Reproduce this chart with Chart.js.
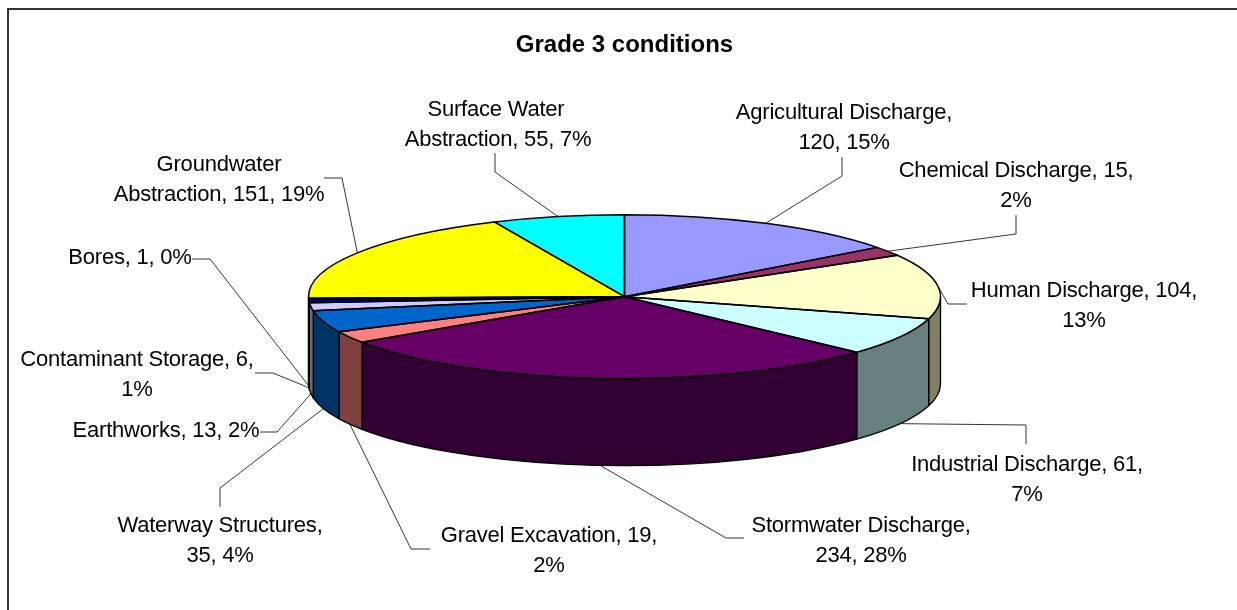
<!DOCTYPE html>
<html>
<head>
<meta charset="utf-8">
<title>Grade 3 conditions</title>
<style>
html,body{margin:0;padding:0;background:#fff;}
#wrap{position:relative;width:1237px;height:610px;overflow:hidden;}
canvas{display:block;}
</style>
<script src="https://cdn.jsdelivr.net/npm/chart.js@4"></script>
</head>
<body>
<div id="wrap"><canvas id="c" width="1237" height="610"></canvas></div>
<script>
const chartTitle = 'Grade 3 conditions';
const categories = ['Agricultural Discharge','Chemical Discharge','Human Discharge','Industrial Discharge','Stormwater Discharge','Gravel Excavation','Waterway Structures','Earthworks','Contaminant Storage','Bores','Groundwater Abstraction','Surface Water Abstraction'];
const values = [120,15,104,61,234,19,35,13,6,1,151,55];
const percents = [15,2,13,7,28,2,4,2,1,0,19,7];
const colors = ['#9999FF','#993366','#FFFFCC','#CCFFFF','#660066','#FF8080','#0066CC','#CCCCFF','#000080','#FF00FF','#FFFF00','#00FFFF'];
const sideColors = ['#4C4C80','#4C1933','#808066','#668080','#330033','#804040','#003366','#666680','#000040','#800080','#808000','#008080'];

// Label wrapping as in the original: text of each line of each data label.
const labelLines = [
  ['Agricultural Discharge,','120, 15%'],
  ['Chemical Discharge, 15,','2%'],
  ['Human Discharge, 104,','13%'],
  ['Industrial Discharge, 61,','7%'],
  ['Stormwater Discharge,','234, 28%'],
  ['Gravel Excavation, 19,','2%'],
  ['Waterway Structures,','35, 4%'],
  ['Earthworks, 13, 2%'],
  ['Contaminant Storage, 6,','1%'],
  ['Bores, 1, 0%'],
  ['Groundwater','Abstraction, 151, 19%'],
  ['Surface Water','Abstraction, 55, 7%']
];

// Layout only: label centre x / first-line y, and the leader-line elbows.
const labelPos = [[844,113],[1016,171],[1084,291],[1027,465],[861,526],[549,536],[220,526],[166,431],[137,360],[130,258],[219,165],[498,110]];
const firstLineShift = [0,0,0,0,0,0,0,0,0,0,0,-2];
const leaderElbows = [
  [[842,157],[842,176]],
  [[1016,215],[1016,234]],
  [[967,304],[948,304]],
  [[1026,444],[1026,425]],
  [[744,538],[726,538]],
  [[430,549],[411,549]],
  [[220,507],[220,488]],
  [[260,432],[277,432]],
  [[255,373],[273,373]],
  [[192,259],[210,259]],
  [[324,178],[342,178]],
  [[495,153],[495,172]]
];

const SQUASH = 82 / 316, DEPTH = 87, RADIUS = 316;
const FONT = '"Liberation Sans", Arial, sans-serif';

function geom(chart){
  const meta = chart.getDatasetMeta(0);
  return meta.data.map(a => a.getProps(['x','y','startAngle','endAngle','outerRadius'], true));
}

const tilt = {
  id:'tilt',
  beforeDatasetsDraw(chart){
    const ctx = chart.ctx, gs = geom(chart);
    const cx = gs[0].x, cy = gs[0].y, rx = gs[0].outerRadius, ry = rx * SQUASH;
    // outer wall of the disc, only where it faces the viewer
    ctx.save();
    ctx.lineWidth = 1.3; ctx.strokeStyle = '#000'; ctx.lineJoin = 'round';
    gs.forEach((g,i)=>{
      const a = Math.max(g.startAngle,0), b = Math.min(g.endAngle,Math.PI);
      if (b <= a) return;
      ctx.beginPath();
      ctx.ellipse(cx,cy,rx,ry,0,a,b,false);
      ctx.ellipse(cx,cy+DEPTH,rx,ry,0,b,a,true);
      ctx.closePath();
      ctx.fillStyle = sideColors[i];
      ctx.fill(); ctx.stroke();
    });
    ctx.restore();
    // squash the library's own arcs into the tilted disc
    ctx.save();
    ctx.translate(cx,cy); ctx.scale(1,SQUASH); ctx.translate(-cx,-cy);
  },
  afterDatasetsDraw(chart){
    const ctx = chart.ctx; ctx.restore();
    const gs = geom(chart);
    const cx = gs[0].x, cy = gs[0].y, rx = gs[0].outerRadius, ry = rx * SQUASH;
    ctx.save();
    ctx.lineWidth = 1.5; ctx.strokeStyle = '#000'; ctx.lineJoin = 'round';
    gs.forEach(g=>{
      ctx.beginPath();
      ctx.moveTo(cx,cy);
      ctx.ellipse(cx,cy,rx,ry,0,g.startAngle,g.endAngle,false);
      ctx.closePath();
      ctx.stroke();
    });
    ctx.restore();
  }
};

const labels = {
  id:'labels3d',
  afterDraw(chart){
    const ctx = chart.ctx, gs = geom(chart);
    ctx.save();
    // frame: only the top and left edges fall inside the picture
    ctx.strokeStyle = '#333'; ctx.lineWidth = 2;
    ctx.beginPath(); ctx.moveTo(8,610); ctx.lineTo(8,9); ctx.lineTo(1237,9); ctx.stroke();
    // leader lines start on the slice's own mid-angle rim point
    ctx.strokeStyle = '#000'; ctx.lineWidth = 0.8;
    gs.forEach((g,i)=>{
      const m = (g.startAngle+g.endAngle)/2;
      const x = g.x + g.outerRadius*Math.cos(m);
      let y = g.y + g.outerRadius*SQUASH*Math.sin(m);
      if (Math.sin(m) > 0 && i !== 2) y += DEPTH;
      ctx.beginPath();
      ctx.moveTo(leaderElbows[i][0][0],leaderElbows[i][0][1]);
      ctx.lineTo(leaderElbows[i][1][0],leaderElbows[i][1][1]);
      ctx.lineTo(x,y);
      ctx.stroke();
    });
    // text
    ctx.fillStyle = '#000';
    ctx.font = '22px ' + FONT;
    ctx.letterSpacing = '-0.22px';
    ctx.textAlign = 'center'; ctx.textBaseline = 'middle';
    labelLines.forEach((ls,i)=>{
      ls.forEach((t,j)=> ctx.fillText(t,labelPos[i][0]+(j===0?firstLineShift[i]:0),labelPos[i][1]+j*29.5));
    });
    ctx.restore();
  }
};

Chart.defaults.animation = false;
new Chart(document.getElementById('c'),{
  type:'pie',
  data:{labels:categories,datasets:[{data:values,backgroundColor:colors,borderWidth:0}]},
  options:{
    responsive:false,
    animation:false,
    radius:RADIUS,
    layout:{padding:{left:12,right:0,top:0,bottom:76.5}},
    plugins:{
      legend:{display:false},
      tooltip:{enabled:false},
      title:{display:true,text:chartTitle,color:'#000',
        font:{family:FONT,size:24,weight:'bold'},padding:{top:31,bottom:0}}
    }
  },
  plugins:[tilt,labels]
});
</script>
</body>
</html>
